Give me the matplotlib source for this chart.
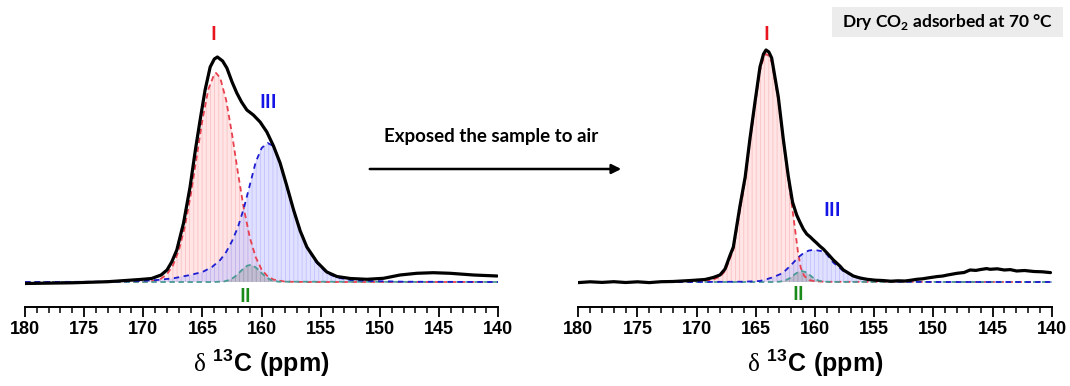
import matplotlib
matplotlib.use("Agg")
import matplotlib.pyplot as plt
from matplotlib.ticker import MultipleLocator
from matplotlib.patches import Rectangle, FancyArrowPatch

plt.rcParams['mathtext.fontset'] = 'custom'
plt.rcParams['mathtext.rm'] = 'Liberation Serif'
plt.rcParams['mathtext.bf'] = 'Liberation Sans:bold'
plt.rcParams['mathtext.sf'] = 'Lato:bold'
plt.rcParams['hatch.linewidth'] = 0.6

# ---------------- data (left: dry CO2 adsorbed at 70 C) ----------------
ppm_L_total = [180, 176, 173, 171.5, 170.3, 169.3, 168.5, 168.0, 167.6, 167.17, 166.6, 166.05,
               165.6, 165.2, 164.78, 164.35, 164.0, 163.74, 163.3, 162.94, 162.5, 162.1, 161.7,
               161.25, 160.7, 160.13, 159.56, 159.0, 158.44, 157.87, 157.3, 156.74, 156.18,
               155.33, 154.49, 153.64, 152.5, 151.1, 149.7, 148.3, 146.9, 145.5, 144.06, 142.1, 140.1]
int_L_total = [-1.5, -0.8, 0.3, 1.5, 2.5, 3.5, 7, 12, 20, 32, 59, 95,
               132, 162, 192, 215, 223, 225, 221, 214, 200, 189, 180,
               172, 167, 160, 150, 136, 119, 96, 72, 51, 35,
               20, 10, 5.5, 3.5, 2.7, 3.7, 7, 8.7, 9.3, 8.7, 7, 6]

ppm_L_I = [180, 172, 170, 169, 168.5, 168, 167.5, 167, 166.5, 166, 165.5, 165, 164.5, 164,
           163.85, 163.5, 163, 162.5, 162, 161.5, 161, 160.5, 160, 159.5, 159, 158, 156, 140]
int_L_I = [0, 0, 0.2, 1.3, 3.4, 7.9, 16.5, 31.6, 54.8, 86.7, 124.4, 162.5, 192.9, 208,
           209, 204, 182, 147.7, 108.9, 73, 44.5, 24.7, 12.4, 5.7, 2.4, 0.3, 0, 0]

ppm_L_III = [180, 175, 172, 170, 168.86, 167.46, 166.05, 165, 164.2, 163.5, 163, 162.5, 162,
             161.5, 161, 160.5, 160, 159.5, 159.0, 158.44, 157.87, 157.3, 156.74, 156.18,
             155.33, 154.49, 153.64, 152.5, 150.8, 148, 140]
int_L_III = [0, 0.2, 0.5, 1.2, 2, 3.7, 7, 10, 15, 22, 30, 41, 55,
             74, 97, 120, 134, 139, 136, 119, 95, 72, 52, 35,
             19, 9, 4.5, 2, 1, 0.3, 0]

ppm_L_II = [180, 164, 163.2, 162.7, 162.3, 161.9, 161.5, 161.2, 160.97, 160.7, 160.4, 160.0,
            159.6, 159.2, 158.6, 140]
int_L_II = [0, 0, 0.5, 2.1, 5, 9.3, 14, 16.4, 17, 16.2, 13.6, 8.9, 4.6, 1.9, 0.3, 0]

# ---------------- data (right: after exposure to air) ----------------
ppm_R_total = [180, 179, 178, 177, 176, 175, 174, 173, 172, 170.5, 169.3, 168.6, 168.03, 167.6,
               167.2, 166.9, 166.34, 165.9, 165.5, 165.07, 164.65, 164.35, 164.14, 163.9, 163.66,
               163.1, 162.68, 162.26, 161.9, 161.55, 161.28, 160.99, 160.7, 160.4, 160.14, 159.86,
               159.6, 159.3, 158.75, 158.45, 157.9, 157.6, 156.76, 156.2, 155.6, 154.9, 154.3,
               153.6, 153, 152.4, 152, 151.4, 150.9, 150.5, 149.7, 149.2, 148.8, 148.0, 147.4,
               146.9, 146.4, 146, 145.5, 145.2, 144.6, 144, 143.5, 142.96, 142.3, 141.5, 140.8, 140.1]
int_R_total = [-0.6, 0.2, -0.4, 0.3, -0.5, 0.2, -0.6, 0.3, 0.5, 1.5, 2.5, 4.5, 7, 13,
               26, 35, 76, 105, 143, 180, 215, 228, 232, 230, 224,
               185, 143, 106, 80, 67, 60, 53, 48, 45, 42, 39,
               36, 33, 26, 22, 16, 12, 6, 4, 2.7, 1.8, 1.5,
               0.8, 1.2, 1.0, 1.6, 2.7, 3.2, 4, 5.4, 6.0, 7, 8.7, 9.5,
               12, 11.6, 12.5, 13.4, 12.7, 13.2, 12, 12.4, 11, 11.5, 10.5, 10.2, 9.4]

ppm_R_I = [180, 172, 170, 169, 168.5, 168, 167.6, 167.2, 166.9, 166.34, 165.9, 165.5, 165.07,
           164.65, 164.35, 164.14, 163.9, 163.66, 163.1, 162.68, 162.26, 161.9, 161.7, 161.45,
           161.2, 160.9, 160.5, 160, 159, 140]
int_R_I = [0, 0, 0.5, 1.5, 3, 5.5, 11, 23, 32, 72, 102, 140, 177,
           211, 224, 228, 226, 220, 182, 141, 103, 72, 54, 31,
           14, 6, 2, 0.7, 0.2, 0]

ppm_R_III = [180, 170, 166, 164.66, 164.1, 163.5, 162.96, 162.5, 162.1, 161.7, 161.28, 160.9,
             160.5, 160.2, 159.86, 159.5, 159.0, 158.45, 157.6, 156.76, 155.6, 154.3, 153, 150, 140]
int_R_III = [0, 0, 0.3, 1, 2.7, 5, 7.7, 11.5, 16, 21, 26, 29.5,
             31.5, 32, 31.7, 31, 27.7, 19.4, 11, 6, 2.7, 1, 0.4, 0, 0]

ppm_R_II = [180, 163.5, 162.96, 162.5, 162.1, 161.7, 161.4, 161.12, 160.8, 160.5, 160.1,
            159.7, 159.3, 158.8, 140]
int_R_II = [0, 0, 0.35, 1.6, 4.1, 7.8, 10.2, 11, 9.9, 7.4, 3.8, 1.4, 0.4, 0.1, 0]

xticks = [180, 175, 170, 165, 160, 155, 150, 145, 140]

# peak label positions (ppm, height)
labels_L = [("I", 164.1, 247, "#e8141e"), ("III", 159.45, 179, "#1414e6"), ("II", 161.4, -14, "#1a8a1a")]
labels_R = [("I", 164.14, 248, "#e8141e"), ("III", 158.58, 72, "#1414e6"), ("II", 161.45, -13, "#1a8a1a")]

W, H = 1070, 386
fig = plt.figure(figsize=(W / 100, H / 100), dpi=100)

def panel(rect, tot, comp_I, comp_III, comp_II, labels):
    ax = fig.add_axes(rect)
    (xI, yI), (xIII, yIII), (xII, yII) = comp_I, comp_III, comp_II
    ax.fill_between(xI, 0, yI, facecolor=(1.0, 0.82, 0.82, 0.55), edgecolor=(0.96, 0.6, 0.62, 0.45),
                    hatch='||||', linewidth=0)
    ax.fill_between(xIII, 0, yIII, facecolor=(0.78, 0.78, 1.0, 0.55), edgecolor=(0.62, 0.62, 0.98, 0.45),
                    hatch='||||', linewidth=0)
    ax.fill_between(xII, 0, yII, facecolor=(0.55, 0.58, 0.58, 0.35), edgecolor=(0.5, 0.55, 0.55, 0.3),
                    hatch='||||', linewidth=0)
    ax.plot(xI, yI, color="#e8404e", lw=1.3, ls=(0, (3, 2)))
    ax.plot(xII, yII, color="#4a9a96", lw=1.3, ls=(0, (3, 2)))
    ax.plot(xIII, yIII, color="#1c1cd0", lw=1.3, ls=(0, (3, 2.5)))
    ax.plot(tot[0], tot[1], color="black", lw=2.3, solid_capstyle='round')
    ax.set_xlim(180, 140)
    ax.set_ylim(-25, 282)
    for s in ("left", "right", "top"):
        ax.spines[s].set_visible(False)
    ax.spines["bottom"].set_linewidth(1.4)
    ax.set_yticks([])
    ax.set_xticks(xticks)
    ax.xaxis.set_minor_locator(MultipleLocator(1))
    ax.tick_params(axis='x', which='major', direction='out', length=7, width=1.3, pad=3,
                   labelsize=13)
    ax.tick_params(axis='x', which='minor', direction='out', length=4, width=1.1)
    for lab in ax.get_xticklabels():
        lab.set_fontfamily("Liberation Sans")
        lab.set_fontweight("bold")
    ax.set_xlabel(r"$\mathrm{δ}$ $\mathbf{^{13}C\ (ppm)}$", fontsize=18, labelpad=7)
    for txt, x, y, c in labels:
        ax.text(x, y, txt, color=c, fontsize=14, fontweight="bold", family="Lato",
                ha="center", va="center")
    return ax

panel([25 / W, 79 / H, 473.3 / W, 307 / H], (ppm_L_total, int_L_total),
      (ppm_L_I, int_L_I), (ppm_L_III, int_L_III), (ppm_L_II, int_L_II), labels_L)
panel([578.3 / W, 79 / H, 473.4 / W, 307 / H], (ppm_R_total, int_R_total),
      (ppm_R_I, int_R_I), (ppm_R_III, int_R_III), (ppm_R_II, int_R_II), labels_R)

# arrow + annotation
arr = FancyArrowPatch((367 / W, 1 - 169 / H), (624 / W, 1 - 169 / H), transform=fig.transFigure,
                      arrowstyle='-|>', mutation_scale=14, lw=1.8, color='black')
fig.add_artist(arr)
fig.text(491 / W, 1 - 137 / H, "Exposed the sample to air", ha="center", va="center",
         fontsize=13.5, fontweight="bold", family="Lato")

# condition box
fig.add_artist(Rectangle((832 / W, 1 - 36.5 / H), 231 / W, 30 / H, transform=fig.transFigure,
                         facecolor="#ececec", edgecolor="none"))
fig.text(947.5 / W, 1 - 22 / H, r"Dry CO$_{\mathsf{2}}$ adsorbed at 70 °C", ha="center", va="center",
         fontsize=12.5, fontweight="bold", family="Lato")

fig.savefig("out.png", dpi=100)
